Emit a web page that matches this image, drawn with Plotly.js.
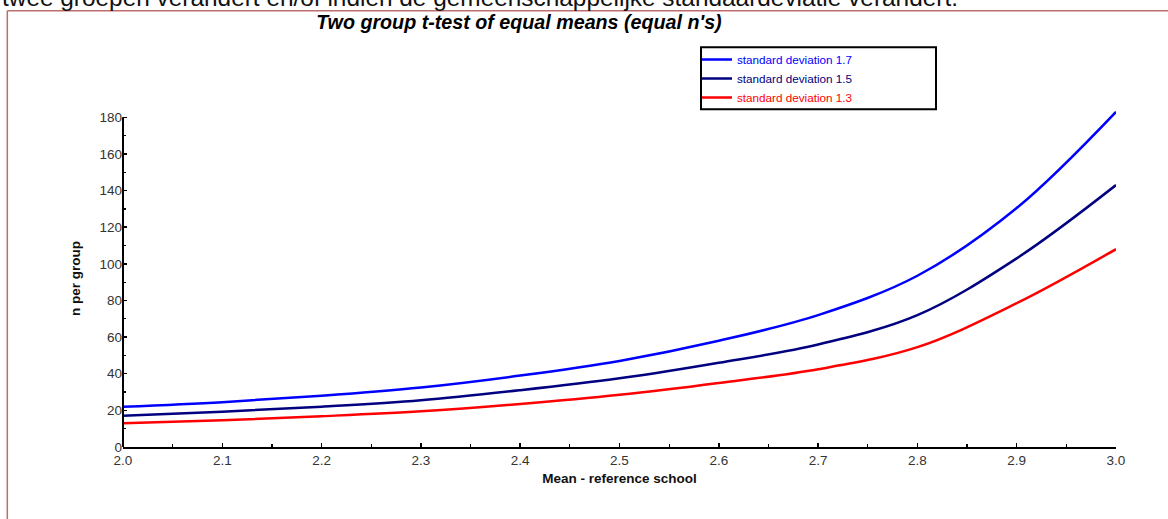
<!DOCTYPE html>
<html>
<head>
<meta charset="utf-8">
<script src="https://cdn.plot.ly/plotly-3.0.1.min.js"></script>
<style>html,body{margin:0;padding:0;background:#fff;}#chart{width:1168px;height:519px;}</style>
</head>
<body>
<div id="chart"></div>
<script>
// Data
const meanRef = [2.0, 2.1, 2.2, 2.3, 2.4, 2.5, 2.6, 2.7, 2.8, 2.9, 3.0];
const nSd17 = [22, 24.5, 28, 32.5, 39, 47, 58, 72, 93.5, 130.5, 183];
const nSd15 = [17, 19.3, 22, 25.5, 31, 37.5, 46, 56, 72, 103, 143];
const nSd13 = [13, 14.6, 16.8, 19.5, 23.5, 28.5, 35, 42.5, 54.5, 78.5, 108];
const seriesNames = ["standard deviation 1.7", "standard deviation 1.5", "standard deviation 1.3"];
const seriesColors = ["#0000ff", "#000080", "#ff0000"];
const yTickVals = [0, 20, 40, 60, 80, 100, 120, 140, 160, 180];
const yMinorVals = [10, 30, 50, 70, 90, 110, 130, 150, 170];
const chartTitle = "Two group t-test of equal means (equal n's)";
const xTitle = "Mean - reference school";
const yTitle = "n per group";
const pageText = "twee groepen verandert en/of indien de gemeenschappelijke standaardeviatie verandert.";

const ys = [nSd17, nSd15, nSd13];
const traces = ys.map((y, i) => ({
  x: meanRef, y: y, type: 'scatter', mode: 'lines',
  name: '<span style="color:' + seriesColors[i] + '">' + seriesNames[i] + '</span>',
  line: {color: seriesColors[i], width: 2.5, shape: 'spline', smoothing: 1}
}));

const L = 123, R = 52, T = 110, B = 72;
const W = 1168, H = 519;
const pw = W - L - R, ph = H - T - B;
const px = v => (v - L) / pw;
const py = v => (H - B - v) / ph;
const frameColor = '#bd6f6f';
const FONT = '"Liberation Sans", Arial, sans-serif';

const layout = {
  width: W, height: H,
  margin: {l: L, r: R, t: T, b: B, pad: 0},
  paper_bgcolor: '#ffffff', plot_bgcolor: '#ffffff',
  font: {family: FONT, color: '#333', size: 12},
  title: {
    text: '<b><i>' + chartTitle + '</i></b>',
    font: {size: 19.7, color: '#000', family: FONT},
    xref: 'container', yref: 'container', x: 519 / W, xanchor: 'center',
    y: 1 - 22 / H, yanchor: 'middle'
  },
  xaxis: {
    range: [2, 3], showgrid: false, zeroline: false,
    showline: true, linecolor: '#000', linewidth: 2,
    tickmode: 'linear', tick0: 2, dtick: 0.1, tickformat: '.1f',
    ticks: 'inside', ticklen: 4, tickwidth: 1.5, tickcolor: '#000',
    minor: {dtick: 0.05, ticks: 'inside', ticklen: 3, tickwidth: 1.2, tickcolor: '#000'},
    tickfont: {size: 13.5, color: '#333'},
    title: {text: '<b>' + xTitle + '</b>', font: {size: 13.5, color: '#111'}, standoff: 6},
    automargin: false, fixedrange: true
  },
  yaxis: {
    range: [0, 184], showgrid: false, zeroline: false, showline: false,
    tickmode: 'array', tickvals: yTickVals,
    ticks: 'inside', ticklen: 4, tickwidth: 1.5, tickcolor: '#000',
    minor: {tickmode: 'array', tickvals: yMinorVals, ticks: 'inside', ticklen: 3, tickwidth: 1.2, tickcolor: '#000'},
    tickfont: {size: 13.5, color: '#333'},
    title: {text: '<b>' + yTitle + '</b>', font: {size: 13.5, color: '#111'}, standoff: 15},
    automargin: false, fixedrange: true
  },
  showlegend: true,
  legend: {
    x: px(697), y: py(45), xanchor: 'left', yanchor: 'top',
    xref: 'paper', yref: 'paper',
    bgcolor: 'rgba(0,0,0,0)', borderwidth: 0,
    font: {size: 11.7, color: '#333', family: FONT},
    itemwidth: 30, tracegroupgap: 0
  },
  shapes: [
    {type: 'line', xref: 'paper', yref: 'y', x0: 0, x1: 0, y0: 0, y1: 180, line: {color: '#000', width: 2}},
    {type: 'rect', xref: 'paper', yref: 'paper', x0: px(701), x1: px(936), y0: py(47.3), y1: py(109.3), line: {color: '#000', width: 2}, fillcolor: '#ffffff'},
    {type: 'line', xref: 'paper', yref: 'paper', x0: px(7.3), x1: px(7.3), y0: py(10.7), y1: py(H + 5), line: {color: frameColor, width: 1.5}},
    {type: 'line', xref: 'paper', yref: 'paper', x0: px(7.3), x1: px(W + 5), y0: py(10.7), y1: py(10.7), line: {color: frameColor, width: 1.5}}
  ],
  annotations: [
    {text: pageText, xref: 'paper', yref: 'paper', x: px(0), y: py(13), xanchor: 'left', yanchor: 'bottom',
     showarrow: false, font: {size: 24.4, color: '#111', family: FONT}}
  ]
};

Plotly.newPlot('chart', traces, layout, {displayModeBar: false, staticPlot: true});
</script>
</body>
</html>
